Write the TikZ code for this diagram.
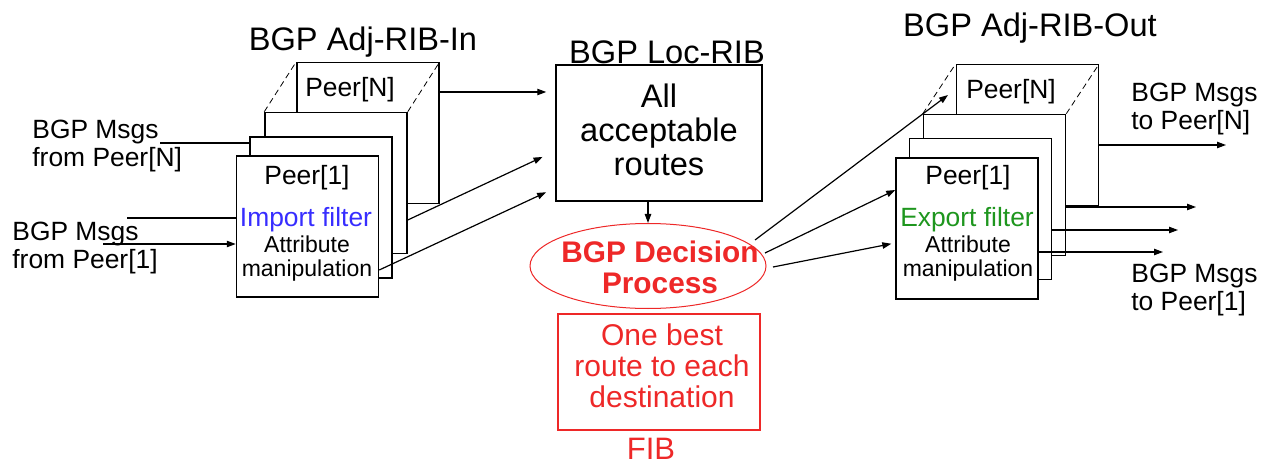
\documentclass[tikz,border=0pt]{standalone}
\usepackage{fontspec}
\setmainfont{Liberation Sans}
\usetikzlibrary{arrows.meta,calc,shapes.geometric}
\definecolor{myred}{RGB}{238,40,40}
\definecolor{myblue}{RGB}{55,45,255}
\definecolor{mygreen}{RGB}{30,150,30}
\begin{document}
\begin{tikzpicture}[x=0.5pt,y=-0.5pt,
  box/.style={draw,fill=white,line width=0.75pt,minimum width=71pt,minimum height=70.5pt,inner sep=0},
  arr/.style={line width=0.6pt,-{Triangle[length=4.5pt,width=3.2pt]}},
  ln/.style={line width=0.6pt},
  dsh/.style={densely dashed,line width=0.4pt},
  ttl/.style={font=\fontsize{16.3}{17}\selectfont,inner sep=0},
  lbl/.style={font=\fontsize{13.2}{13.6}\selectfont,inner sep=0,align=left},
  peer/.style={font=\fontsize{13.2}{14}\selectfont,inner sep=0},
  attr/.style={font=\fontsize{11.5}{11.7}\selectfont,inner sep=0,align=center},
  redt/.style={text=myred,font=\fontsize{15}{15.5}\selectfont,inner sep=0,align=center}]
\useasboundingbox (0,0) rectangle (1270,465);
\fill[white] (0,0) rectangle (1270,465);

% level coordinates
\coordinate (y92) at (0,92);
\coordinate (y143) at (0,143);
\coordinate (y151) at (0,151);
\coordinate (y188) at (0,188);
\coordinate (y190) at (0,190);
\coordinate (y218) at (0,218);
\coordinate (y220) at (0,220);
\coordinate (y244) at (0,244);
\coordinate (y243) at (0,243);
\coordinate (y270) at (0,270);
\coordinate (y145) at (0,145);
\coordinate (y207) at (0,207);
\coordinate (y230) at (0,230);
\coordinate (y252) at (0,252);

% titles
\node[ttl] (tIn) at (363,42) {BGP Adj-RIB-In};
\node[ttl] (tOut) at (1030,28) {BGP Adj-RIB-Out};

% left stack
\node[box] (LN) at (368,133) {};
\node[box] (L3) at (336,183) {};
\draw[dsh] (L3.north west) -- (LN.north west);
\draw[dsh] (L3.north east) -- (LN.north east);
\node[box] (L2) at (321,207.5) {};
\node[box] (L1) at (307.5,226.5) {};
\node[peer] (LNt) at (350,90) {Peer[N]};
\node[peer] (L1t) at (307,178) {Peer[1]};
\node[peer,text=myblue] (Limp) at (306,220) {Import filter};
\node[attr] (Lattr) at (307,258.5) {Attribute\\manipulation};

% right stack
\node[box] (RN) at (1027.5,135) {};
\node[box] (R3) at (994.5,185) {};
\draw[dsh] (R3.north west) -- (RN.north west);
\draw[dsh] (R3.north east) -- (RN.north east);
\node[box] (R2) at (980.5,209) {};
\node[box] (R1) at (967,228.5) {};
\node[peer] (RNt) at (1011,92) {Peer[N]};
\node[peer] (R1t) at (968,178) {Peer[1]};
\node[peer,text=mygreen] (Rexp) at (967,220) {Export filter};
\node[attr] (Rattr) at (968,258.5) {Attribute\\manipulation};

% Loc-RIB
\node[draw,line width=0.75pt,minimum width=103pt,minimum height=68pt,inner sep=0] (Loc) at (659,133) {};
\node[ttl] (tLoc) at (667,52) {BGP Loc-RIB};
\node[ttl,align=center] (LocT) at (659,130) {All\\acceptable\\routes};

% decision
\node[draw=myred,ellipse,line width=0.5pt,minimum width=118pt,minimum height=42.5pt,inner sep=0] (Dec) at (648,266) {};
\node[redt,font=\bfseries\fontsize{14.9}{15.5}\selectfont] (DecT) at (660,267) {BGP Decision\\Process};

% FIB
\node[draw=myred,line width=0.6pt,minimum width=101pt,minimum height=58pt,inner sep=0] (FIB) at (659,372) {};
\node[redt] (FIBt) at (662,366) {One best\\route to each\\destination};
\node[redt,font=\fontsize{15.5}{15.5}\selectfont] (FIBl) at (651,449) {FIB};

% side labels
\node[lbl,anchor=west] (mN) at (32,146) {BGP Msgs\\from Peer[N]};
\node[lbl,anchor=west] (m1) at (12,248) {BGP Msgs\\from Peer[1]};
\node[lbl,anchor=west] (oN) at (1131,109) {BGP Msgs\\to Peer[N]};
\node[lbl,anchor=west] (o1) at (1131,290) {BGP Msgs\\to Peer[1]};

% left inputs
\coordinate (iN) at (160,143);
\coordinate (iA) at (127,218);
\coordinate (iB) at (103,244);
\draw[ln] (iN) -- (iN -| L2.west);
\draw[ln] (iA) -- (iA -| L1.west);
\draw[arr] (iB) -- (iB -| L1.west);

% left to Loc-RIB
\draw[arr,shorten >=4.5pt] (LN.east |- y92) -- (Loc.west |- y92);
\draw[arr,shorten >=7pt] (L3.east |- y220) -- (Loc.west |- y151);
\draw[arr,shorten >=5pt] (L1.east |- y270) -- (Loc.west |- y188);

% Loc to decision
\draw[arr] (Dec.north |- Loc.south) -- (Dec.north);

% decision to right stack
\coordinate (d1) at (755,240);
\coordinate (d2) at (765,253);
\coordinate (d3) at (773,267);
\coordinate (e1) at (948,95);
\draw[arr] (d1) -- (e1);
\draw[arr] (d2) -- (R1.west |- y190);
\draw[arr,shorten >=2pt] (d3) -- (R1.west |- y243);

% right outputs
\coordinate (f1) at (1226,145);
\coordinate (f2) at (1196,207);
\coordinate (f3) at (1178,230);
\coordinate (f4) at (1163,252);
\draw[arr] (RN.east |- y145) -- (f1);
\draw[arr] (R3.east |- y207) -- (f2);
\draw[arr] (R2.east |- y230) -- (f3);
\draw[arr] (R1.east |- y252) -- (f4);
\end{tikzpicture}
\end{document}
